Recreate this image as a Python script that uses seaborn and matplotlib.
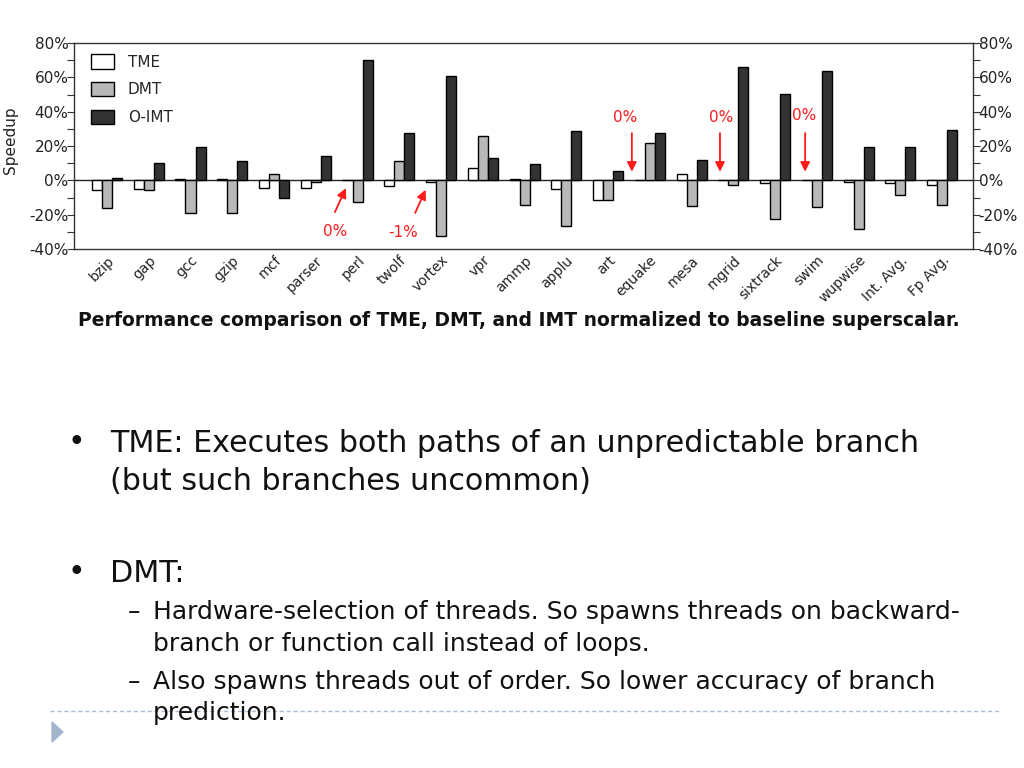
import matplotlib
matplotlib.use("Agg")
import matplotlib.pyplot as plt
from matplotlib.ticker import MultipleLocator, FuncFormatter
from matplotlib.patches import Polygon
import seaborn as sns
import pandas as pd

benchmarks = ["bzip", "gap", "gcc", "gzip", "mcf", "parser", "perl", "twolf", "vortex",
              "vpr", "ammp", "applu", "art", "equake", "mesa", "mgrid", "sixtrack",
              "swim", "wupwise", "Int. Avg.", "Fp Avg."]
tme = [-5.8, -5.0, 1.0, 1.0, -4.3, -4.3, 0.0, -3.3, -1.0, 7.0, 1.0, -5.0, -11.7,
       0.0, 3.6, 0.0, -1.7, 0.0, -1.0, -1.7, -2.5]
dmt = [-16.0, -5.8, -19.0, -19.0, 3.5, -1.0, -12.7, 11.0, -32.7, 26.0, -14.2, -26.7,
       -11.7, 21.8, -15.0, -2.5, -22.6, -15.8, -28.5, -8.4, -14.2]
oimt = [1.2, 10.0, 19.5, 11.0, -10.0, 14.4, 70.0, 27.7, 61.0, 12.9, 9.4, 28.7, 5.3,
        27.7, 11.9, 66.0, 50.5, 63.5, 19.5, 19.5, 29.4]
series_names = ["TME", "DMT", "O-IMT"]
series_colors = ["#ffffff", "#b8b8b8", "#333333"]

# annotations: (label, text x, text y, arrow tail x, tail y, tip x, tip y)
annotations = [
    ("0%", 5.46, -29.8, 5.46, -18.5, 5.72, -4.5),
    ("-1%", 7.09, -30.4, 7.38, -19.0, 7.63, -5.5),
    ("0%", 12.41, 36.5, 12.57, 27.5, 12.57, 5.0),
    ("0%", 14.71, 36.5, 14.68, 27.5, 14.68, 5.0),
    ("0%", 16.69, 37.5, 16.72, 27.5, 16.72, 5.0),
]

df = pd.DataFrame({
    "bench": benchmarks * 3,
    "series": sum([[s] * len(benchmarks) for s in series_names], []),
    "val": tme + dmt + oimt,
})

sns.set_theme(style="white")
plt.rcParams["font.family"] = ["DejaVu Sans"]

fig = plt.figure(figsize=(10.24, 7.68), dpi=100)
ax = fig.add_axes([74 / 1024, 1 - 249 / 768, (973 - 74) / 1024, (249 - 43) / 768])

sns.barplot(data=df, x="bench", y="val", hue="series", hue_order=series_names,
            order=benchmarks, palette=series_colors, edgecolor="black",
            linewidth=1.0, width=0.72, ax=ax, legend=True, saturation=1)

ax.set_xlim(-0.79, 20.74)
ax.set_ylim(-40, 80)
ax.axhline(0, color="#222222", lw=1.0, zorder=0.5)
for sp in ax.spines.values():
    sp.set_color("#333333")
    sp.set_linewidth(1.0)

ax.yaxis.set_major_locator(MultipleLocator(20))
ax.yaxis.set_minor_locator(MultipleLocator(10))
ax.yaxis.set_major_formatter(FuncFormatter(lambda v, p: f"{v:.0f}%"))
ax.tick_params(axis="y", which="both", direction="out", left=True, right=True,
               labelleft=True, labelright=True, length=5, width=0.8,
               color="#333333", labelsize=11, pad=-1, labelcolor="#222222")
ax.tick_params(axis="x", length=0, pad=3, labelsize=10, labelcolor="#222222")
plt.setp(ax.get_xticklabels(), rotation=45, ha="right", rotation_mode="anchor")
ax.set_xlabel("")
ax.set_ylabel("Speedup", fontsize=11, color="#222222")
ax.yaxis.set_label_coords((18 - 74) / 899, 0.53)

handles, labels = ax.get_legend_handles_labels()
ax.legend(handles, labels, loc="upper left",
          bbox_to_anchor=((91 - 74) / 899, 1 - (54 - 43) / 206),
          frameon=False, fontsize=11, handlelength=1.5, handleheight=1.1,
          labelspacing=0.8, handletextpad=0.9, borderpad=0, borderaxespad=0)

for lab, tx, ty, ax0, ay0, ax1, ay1 in annotations:
    ax.text(tx, ty, lab, color="#ff1a1a", fontsize=11, ha="center", va="center")
    ax.annotate("", xy=(ax1, ay1), xytext=(ax0, ay0),
                arrowprops=dict(arrowstyle="-|>", color="#ff1a1a", lw=1.3,
                                mutation_scale=14, shrinkA=0, shrinkB=0))

fig.text(519 / 1024, 1 - 321 / 768,
         "Performance comparison of TME, DMT, and IMT normalized to baseline superscalar.",
         ha="center", va="center", fontsize=13.5, fontweight="bold", color="#111111")

def ftxt(x, y, s, size):
    fig.text(x / 1024, 1 - y / 768, s, ha="left", va="center", fontsize=size,
             color="#111111")

ftxt(68, 443, "•", 21.5)
ftxt(110, 443, "TME: Executes both paths of an unpredictable branch", 21.7)
ftxt(110, 482, "(but such branches uncommon)", 21.7)
ftxt(68, 573, "•", 21.5)
ftxt(110, 573, "DMT:", 21.7)
ftxt(128, 612, "–", 18)
ftxt(153, 612, "Hardware-selection of threads. So spawns threads on backward-", 18)
ftxt(153, 644, "branch or function call instead of loops.", 18)
ftxt(128, 682, "–", 18)
ftxt(153, 682, "Also spawns threads out of order. So lower accuracy of branch", 18)
ftxt(153, 713, "prediction.", 18)

fig.add_artist(plt.Line2D([50 / 1024, 1000 / 1024], [1 - 711 / 768, 1 - 711 / 768],
                          transform=fig.transFigure, color="#a9bdd2", lw=1,
                          linestyle=(0, (3, 2))))
fig.add_artist(Polygon([[52 / 1024, 1 - 722 / 768], [52 / 1024, 1 - 742 / 768],
                        [63 / 1024, 1 - 732 / 768]], closed=True,
                       transform=fig.transFigure, color="#a3b6cc"))

fig.savefig("out.png", dpi=100)
